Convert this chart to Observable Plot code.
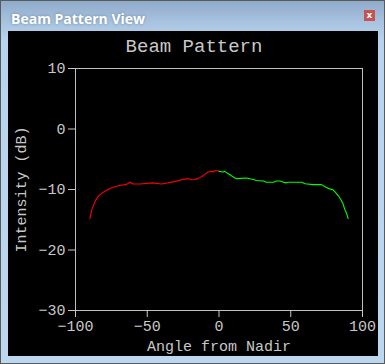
<!DOCTYPE html>
<html>
<head>
<meta charset="utf-8">
<script src="https://cdn.jsdelivr.net/npm/d3@7"></script>
<script src="https://cdn.jsdelivr.net/npm/@observablehq/plot@0.6"></script>
<style>
  html, body { margin: 0; padding: 0; background: #ffffff; }
  #win {
    position: absolute; left: 0; top: 0; width: 383px; height: 362px;
    border: 1px solid #5a5a5a;
    background: linear-gradient(#8fabca 0px, #a9c4e0 22px, #b8d3ed 40px, #bcd7f0 100%);
    overflow: hidden;
  }
  #wintitle {
    position: absolute; left: 10px; top: 8px;
    font: 700 14px "Open Sans", sans-serif; color: #ffffff;
    text-shadow: 0 0 3px rgba(40,60,90,0.45);
    white-space: nowrap;
  }
  #close {
    position: absolute; left: 363px; top: 9px; width: 11px; height: 11px;
    background: #c9514f; color: #fff; font: 700 9px "DejaVu Sans", sans-serif;
    text-align: center; line-height: 11px;
  }
  #chart { position: absolute; left: 7px; top: 30px; }
</style>
</head>
<body>
<div id="win">
  <div id="wintitle">Beam Pattern View</div>
  <div id="close">x</div>
  <div id="chart"></div>
</div>
<script>
const chartTitle = "Beam Pattern";
const xLabel = "Angle from Nadir";
const yLabel = "Intensity (dB)";
const xTicks = [-100, -50, 0, 50, 100];
const yTicks = [-30, -20, -10, 0, 10];

const redAngle = [-90, -88.5, -86, -84, -81.5, -79, -75.5, -72, -68.5, -65, -62, -60, -55, -46.5, -40, -38, -31, -26, -21.5, -19.5, -17, -14.5, -12, -10, -7.5, -5.5, -4, -3, 0];
const redDb = [-14.8, -13.2, -11.8, -11.1, -10.6, -10.2, -9.8, -9.5, -9.3, -9.2, -8.8, -9.1, -9.1, -8.9, -9.1, -9.0, -8.7, -8.4, -8.2, -8.4, -8.35, -8.2, -7.85, -7.5, -7.1, -7.0, -7.1, -6.9, -6.9];

const greenAngle = [0, 3, 4, 6.5, 8.5, 11, 12.5, 19, 24, 26, 31, 33, 38, 40, 42.5, 46, 48, 57.5, 60, 65.5, 71.5, 73.5, 77, 79.5, 81, 83, 85, 86.5, 87.5, 89, 90];
const greenDb = [-7.0, -7.1, -7.0, -7.4, -7.7, -8.1, -8.2, -8.1, -8.35, -8.5, -8.6, -8.8, -8.8, -8.6, -8.6, -8.9, -8.8, -8.8, -9.05, -9.2, -9.2, -9.5, -9.9, -10.05, -10.45, -11.0, -11.7, -12.4, -13.2, -14.0, -14.8];

const red = redAngle.map((a, i) => ({angle: a, db: redDb[i]}));
const green = greenAngle.map((a, i) => ({angle: a, db: greenDb[i]}));

const plot = Plot.plot({
  width: 370,
  height: 325,
  marginLeft: 67,
  marginRight: 16,
  marginTop: 37,
  marginBottom: 46,
  style: {
    background: "#000000",
    color: "#c8c8c8",
    fontFamily: "'Liberation Mono', 'Courier New', monospace",
    fontSize: "15px"
  },
  x: {domain: [-100, 100]},
  y: {domain: [-30, 10]},
  marks: [
    Plot.frame({stroke: "#c0c0c0"}),
    Plot.axisX({ticks: xTicks, tickSize: 7, tickPadding: 3, label: xLabel, labelAnchor: "center", labelArrow: "none", labelOffset: 40}),
    Plot.axisY({ticks: yTicks, tickSize: 7, tickPadding: 3, label: yLabel, labelAnchor: "center", labelArrow: "none", labelOffset: 60}),
    Plot.line(red, {x: "angle", y: "db", stroke: "#ff0000", strokeWidth: 1.1}),
    Plot.line(green, {x: "angle", y: "db", stroke: "#00ff00", strokeWidth: 1.1}),
    Plot.text([chartTitle], {frameAnchor: "top", dx: -25, dy: -17, lineAnchor: "bottom", fontSize: 19, fill: "#c8c8c8"})
  ]
});
document.getElementById("chart").appendChild(plot);
</script>
</body>
</html>
